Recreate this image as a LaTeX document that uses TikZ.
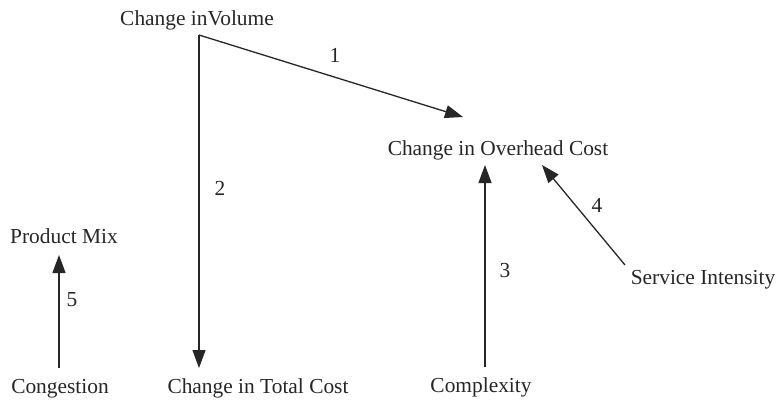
\documentclass[tikz,border=0pt]{standalone}
\usepackage{fontspec}
\setmainfont{Liberation Serif}
\usetikzlibrary{arrows.meta,calc}
\begin{document}
\begin{tikzpicture}[x=1pt,y=-1pt,
  lbl/.style={inner sep=0pt,anchor=base,font=\fontsize{21.4}{24}\selectfont,text=black!85},
  num/.style={inner sep=0pt,anchor=base,font=\fontsize{21.4}{24}\selectfont,text=black!85},
  arr/.style={line width=1.3pt,draw=black!85,-{Triangle[length=18pt,width=13pt]}}]
\useasboundingbox (0,0) rectangle (778,400);
\node[lbl] (vol) at (197,25) {Change inVolume};
\node[lbl] (ovh) at (498,155) {Change in Overhead Cost};
\node[lbl] (tot) at (258,393) {Change in Total Cost};
\node[lbl] (cong) at (60,393) {Congestion};
\node[lbl] (pm) at (64,243) {Product Mix};
\node[lbl] (comp) at (481,392) {Complexity};
\node[lbl] (serv) at (703,284) {Service Intensity};
\node[num] (n1) at (335,62) {1};
\node[num] (n2) at (220,195) {2};
\node[num] (n3) at (505,277) {3};
\node[num] (n4) at (597,212) {4};
\node[num] (n5) at (72,306) {5};
\coordinate (corner) at ($(vol.base)+(2,10)$);
\draw[arr] (corner) -- ($(ovh.base)+(-35,-38)$);
\draw[arr] (corner) -- ($(tot.base)+(-59,-25)$);
\draw[arr] ($(comp.base)+(4,-25)$) -- ($(ovh.base)+(-13,10)$);
\draw[arr] ($(serv.base)+(-78,-19)$) -- ($(ovh.base)+(44,10)$);
\draw[arr] ($(cong.base)+(-1,-25)$) -- ($(pm.base)+(-5,12)$);
\end{tikzpicture}
\end{document}
